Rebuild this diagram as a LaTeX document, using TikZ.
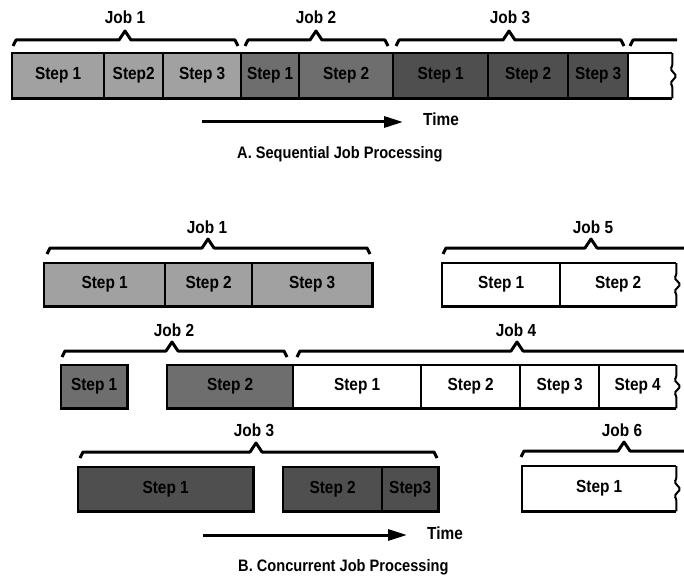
\documentclass[tikz,border=0pt]{standalone}
\usepackage{fontspec}
\setmainfont{Liberation Sans}[FakeStretch=0.88]
\usetikzlibrary{arrows.meta}
\definecolor{gA}{gray}{0.63}
\definecolor{gB}{gray}{0.43}
\definecolor{gC}{gray}{0.31}
\tikzset{
  stp/.style={inner sep=0pt, anchor=north west, font=\bfseries\fontsize{17.5}{20}\selectfont},
  lab/.style={inner sep=0pt, font=\bfseries\fontsize{17.5}{20}\selectfont},
  captext/.style={inner sep=0pt, font=\bfseries\fontsize{16.6}{19}\selectfont},
  outline/.style={line width=2.7pt, line join=miter},
  divider/.style={line width=2pt},
  bracestyle/.style={line width=3pt, line join=round},
  tarrow/.style={line width=3pt, -{Triangle[length=19pt,width=11pt]}},
  torn/.style={line width=2pt, rounded corners=1.5pt},
}
\newcommand\jbrace[4]{\draw[bracestyle] (#1,#4+6) -- (#1+3,#4) -- (#3-6,#4) -- (#3,#4-9) -- (#3+6,#4) -- (#2-3,#4) -- (#2,#4+6);}
\newcommand\jopen[3]{\draw[bracestyle] (#1,#3+6) -- (#1+3,#3) -- (#2-6,#3) -- (#2,#3-9) -- (#2+6,#3) -- (684,#3);}
\begin{document}
\begin{tikzpicture}[x=1pt,y=-1pt]
\useasboundingbox (0,0) rectangle (684,577);
% ---------------- A. Sequential ----------------
\node[lab] (lA1) at (125,17) {Job 1};
\node[lab] (lA2) at (316,17) {Job 2};
\node[lab] (lA3) at (510,17) {Job 3};
\jbrace{13}{238}{125}{40}
\jbrace{245}{388}{316}{40}
\jbrace{396}{624}{509}{40}
\draw[bracestyle] (630,46) -- (633,40) -- (677,40);

\node[stp, fill=gA, minimum width=92pt, minimum height=45pt] (a11) at (12,53) {Step 1};
\node[stp, fill=gA, minimum width=59pt, minimum height=45pt] (a12) at (104,53) {Step2};
\node[stp, fill=gA, minimum width=78pt, minimum height=45pt] (a13) at (163,53) {Step 3};
\node[stp, fill=gB, minimum width=58pt, minimum height=45pt] (a21) at (241,53) {Step 1};
\node[stp, fill=gB, minimum width=94pt, minimum height=45pt] (a22) at (299,53) {Step 2};
\node[stp, fill=gC, minimum width=95pt, minimum height=45pt] (a31) at (393,53) {Step 1};
\node[stp, fill=gC, minimum width=80pt, minimum height=45pt] (a32) at (488,53) {Step 2};
\node[stp, fill=gC, minimum width=60pt, minimum height=45pt] (a33) at (568,53) {Step 3};
\node[stp, fill=white, minimum width=44pt, minimum height=45pt] (a4) at (628,53) {};
\draw[outline] (a4.north east) -- (a11.north west) -- (a11.south west) -- (a4.south east);
\draw[torn] (a4.north east) -- ++(0,13) -- ++(-2,3) -- ++(6,7) -- ++(-6,7) -- ++(2,3) -- (a4.south east);
\foreach \n in {a11,a12,a13,a21,a22,a31,a32,a33}
  \draw[divider] (\n.north east) -- (\n.south east);

\coordinate (tAs) at (202,122);
\node[lab, anchor=west] (timeA) at (423,119) {Time};
\draw[tarrow] (tAs) -- ([xshift=-20pt]timeA.west |- tAs);
\node[captext, anchor=west] (capA) at (237,154) {A. Sequential Job Processing};

% ---------------- B. Concurrent ----------------
% Job 1
\node[lab] (lB1) at (207,227) {Job 1};
\jbrace{47}{370}{208}{248}
\node[stp, fill=gA, minimum width=121pt, minimum height=43pt] (b11) at (44,263) {Step 1};
\node[stp, fill=gA, minimum width=87pt, minimum height=43pt] (b12) at (165,263) {Step 2};
\node[stp, fill=gA, minimum width=120pt, minimum height=43pt] (b13) at (252,263) {Step 3};
\draw[outline] (b11.north west) rectangle (b13.south east);
\foreach \n in {b11,b12} \draw[divider] (\n.north east) -- (\n.south east);

% Job 5
\node[lab] (lB5) at (593,227) {Job 5};
\jopen{443}{591}{248}
\node[stp, fill=white, minimum width=118pt, minimum height=43pt] (b51) at (442,263) {Step 1};
\node[stp, fill=white, minimum width=116pt, minimum height=43pt] (b52) at (560,263) {Step 2};
\draw[outline] (b52.north east) -- (b51.north west) -- (b51.south west) -- (b52.south east);
\draw[torn] (b52.north east) -- ++(0,12) -- ++(-2,3) -- ++(6,6.5) -- ++(-6,6.5) -- ++(2,3) -- (b52.south east);
\draw[divider] (b51.north east) -- (b51.south east);

% Job 2
\node[lab] (lB2) at (174,330) {Job 2};
\jbrace{62}{287}{172}{351}
\node[stp, fill=gB, minimum width=66pt, minimum height=43pt] (b21) at (61,365) {Step 1};
\node[stp, fill=gB, minimum width=126pt, minimum height=43pt] (b22) at (167,365) {Step 2};
\draw[outline] (b21.north west) rectangle (b21.south east);
\draw[outline] (b22.north west) rectangle (b22.south east);

% Job 4
\node[lab] (lB4) at (516,330) {Job 4};
\jopen{297}{517}{351}
\node[stp, fill=white, minimum width=128pt, minimum height=43pt] (b41) at (293,365) {Step 1};
\node[stp, fill=white, minimum width=99pt, minimum height=43pt] (b42) at (421,365) {Step 2};
\node[stp, fill=white, minimum width=79pt, minimum height=43pt] (b43) at (520,365) {Step 3};
\node[stp, fill=white, minimum width=77pt, minimum height=43pt] (b44) at (599,365) {Step 4};
\draw[outline] (b44.north east) -- (b41.north west) -- (b41.south west) -- (b44.south east);
\draw[torn] (b44.north east) -- ++(0,12) -- ++(-2,3) -- ++(6,6.5) -- ++(-6,6.5) -- ++(2,3) -- (b44.south east);
\foreach \n in {b41,b42,b43} \draw[divider] (\n.north east) -- (\n.south east);

% Job 3
\node[lab] (lB3) at (254,430) {Job 3};
\jbrace{80}{437}{256}{452}
\node[stp, fill=gC, minimum width=175pt, minimum height=44pt] (b31) at (78,467) {Step 1};
\node[stp, fill=gC, minimum width=99pt, minimum height=44pt] (b32) at (283,467) {Step 2};
\node[stp, fill=gC, minimum width=56pt, minimum height=44pt] (b33) at (382,467) {Step3};
\draw[outline] (b31.north west) rectangle (b31.south east);
\draw[outline] (b32.north west) rectangle (b33.south east);
\draw[divider] (b32.north east) -- (b32.south east);

% Job 6
\node[lab] (lB6) at (622,430) {Job 6};
\jopen{521}{624}{451}
\node[stp, fill=white, minimum width=154pt, minimum height=45pt] (b61) at (522,466) {Step 1};
\draw[outline] (b61.north east) -- (b61.north west) -- (b61.south west) -- (b61.south east);
\draw[torn] (b61.north east) -- ++(0,13) -- ++(-2,3) -- ++(6,7) -- ++(-6,7) -- ++(2,3) -- (b61.south east);

\coordinate (tBs) at (203,535);
\node[lab, anchor=west] (timeB) at (427,533) {Time};
\draw[tarrow] (tBs) -- ([xshift=-20pt]timeB.west |- tBs);
\node[captext, anchor=west] (capB) at (238,567) {B. Concurrent Job Processing};
\end{tikzpicture}
\end{document}
